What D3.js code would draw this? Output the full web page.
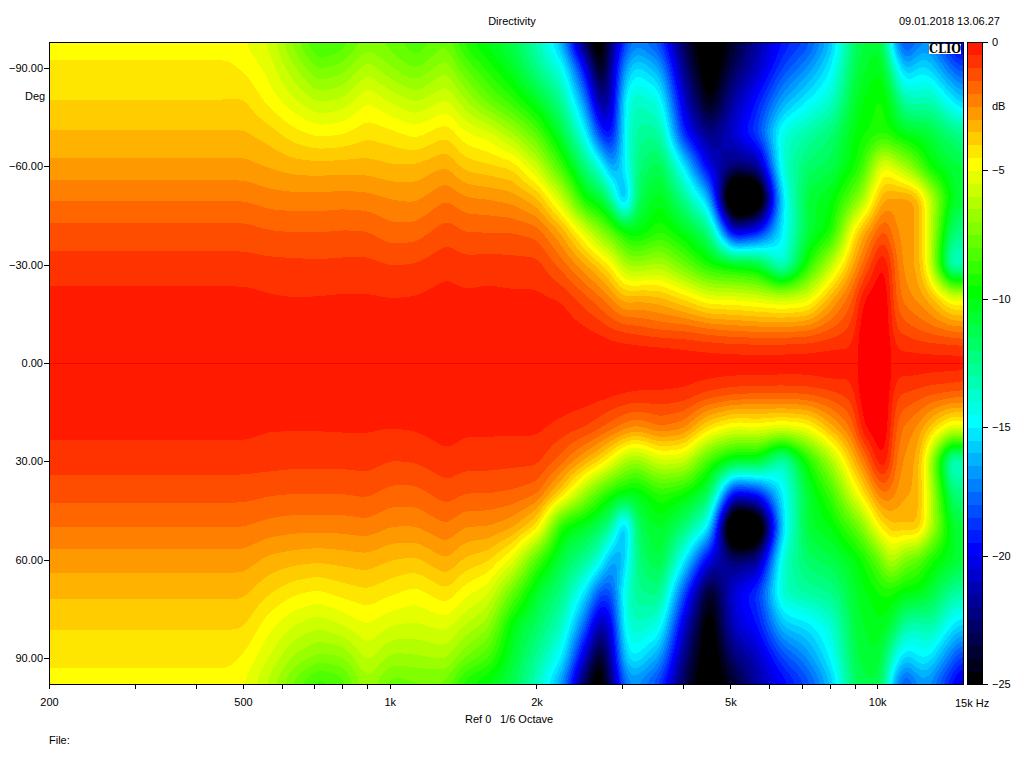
<!DOCTYPE html>
<html>
<head>
<meta charset="utf-8">
<title>Directivity</title>
<script src="https://cdn.jsdelivr.net/npm/d3@7"></script>
<style>
  body { margin: 0; background: #fff; }
  svg { display: block; }
  text { font-family: "Liberation Sans", Arial, sans-serif; font-size: 11px; fill: #000; }
  .tick line { stroke: #000; shape-rendering: crispEdges; }
  .domain { display: none; }
</style>
</head>
<body>
<svg id="chart" width="1024" height="768"></svg>
<script>
// measured frequencies (Hz), one column of the map each
var freqs = [200, 470, 504, 566, 635, 713, 800, 898, 1008, 1131, 1310, 1425, 1600, 1796, 2016, 2263, 2540, 2700,
  2851, 3040, 3200, 3592, 4032, 4525, 5080, 5702, 6400, 7184, 8063, 9051, 9228, 10159, 10577, 10700, 11404, 12130, 12800, 14368, 15000];

// measured angles (deg), top to bottom of the map
var angles = [-97.8, -90, -80, -70, -60, -50, -40, -30, -20, -10, -5, 0, 5, 10, 20, 30, 40, 50, 60, 70, 80, 90, 97.8];

// levels in dB, one line per frequency, one value per angle
var levels = [
  [-4.75,-4.4,-4,-3.45,-2.85,-2.05,-1.3,-.8,-.35,-.1,-.07,-.05,-.07,-.1,-.35,-.78,-1.33,-2,-2.75,-3.4,-3.95,-4.35,-4.75],
  [-4.75,-4.4,-4,-3.45,-2.85,-2.05,-1.3,-.8,-.35,-.1,-.07,-.05,-.07,-.1,-.35,-.78,-1.33,-2,-2.75,-3.4,-3.95,-4.35,-4.75],
  [-5,-4.6,-3.95,-3.45,-2.85,-2.05,-1.3,-.8,-.35,-.1,-.07,-.05,-.07,-.1,-.35,-.78,-1.33,-2,-2.75,-3.4,-3.95,-4.6,-5],
  [-5.6,-5.2,-4.7,-3.75,-3.05,-2.25,-1.45,-.85,-.45,-.15,-.07,-.05,-.07,-.1,-.47,-.8,-1.45,-2.2,-3.15,-3.95,-4.85,-5.5,-6.2],
  [-7.2,-6.4,-5.4,-4.3,-3.25,-2.3,-1.5,-.87,-.5,-.15,-.07,-.05,-.07,-.1,-.47,-.85,-1.5,-2.3,-3.3,-4.4,-5.5,-6.6,-7.7],
  [-8.8,-7.6,-6.1,-4.65,-3.3,-2.3,-1.5,-.9,-.48,-.15,-.07,-.05,-.07,-.1,-.47,-.85,-1.5,-2.3,-3.4,-4.6,-5.9,-7.2,-9],
  [-8.4,-7.3,-5.9,-4.55,-3.25,-2.25,-1.45,-.87,-.45,-.15,-.07,-.05,-.07,-.1,-.45,-.85,-1.5,-2.3,-3.3,-4.3,-5.5,-7.1,-8.4],
  [-7.3,-6.2,-5,-4.15,-3.27,-2.3,-1.47,-.85,-.45,-.15,-.07,-.05,-.07,-.1,-.45,-.8,-1.4,-2.2,-3.2,-4.1,-5,-5.8,-6.6],
  [-7.8,-7,-5.6,-4.35,-3.45,-2.5,-1.8,-1,-.5,-.15,-.07,-.05,-.07,-.1,-.5,-1,-1.7,-2.5,-3.5,-4.4,-5.5,-6.7,-7.9],
  [-8.5,-7.6,-6.1,-4.7,-3.4,-2.6,-1.75,-.95,-.47,-.15,-.07,-.05,-.07,-.1,-.45,-.95,-1.7,-2.5,-3.6,-4.7,-5.6,-6.6,-7.7],
  [-7.6,-6.6,-5.4,-4.1,-3,-2,-1.2,-.65,-.3,-.1,-.07,-.05,-.07,-.1,-.25,-.65,-1.25,-2.05,-3,-4.1,-5.3,-6.4,-7.7],
  [-9.3,-8,-6.4,-4.9,-3.7,-2.4,-1.5,-.8,-.4,-.1,-.07,-.05,-.07,-.1,-.4,-.8,-1.5,-2.5,-3.6,-4.8,-6,-7.5,-9.5],
  [-10.2,-9.3,-7.8,-5.3,-3.9,-2.5,-1.5,-.75,-.35,-.1,-.07,-.05,-.07,-.1,-.4,-.8,-1.5,-2.5,-3.9,-5.4,-6.8,-8.5,-10.2],
  [-11.3,-10.5,-9,-6.5,-4.15,-2.7,-1.5,-.8,-.4,-.1,-.07,-.05,-.07,-.1,-.4,-.85,-1.6,-2.9,-5.2,-7.9,-10.3,-10.8,-11.4],
  [-13.3,-12.6,-10.5,-8.2,-5.85,-3.4,-1.7,-.8,-.4,-.1,-.07,-.05,-.07,-.1,-.4,-.85,-1.9,-4.2,-8.5,-10.8,-11.7,-12.8,-13.6],
  [-16.5,-14.4,-12.7,-11,-8.8,-5.8,-3.1,-1.75,-.55,-.1,-.07,-.05,-.07,-.15,-.7,-1.8,-4,-9.7,-11.2,-12.3,-13.5,-15,-17],
  [-24.2,-20.3,-17.5,-15,-12.5,-10,-5.5,-3,-1.4,-.4,-.15,-.08,-.1,-.25,-1,-3.2,-7,-10.7,-12.7,-15.5,-18.3,-21.5,-24.2],
  [-26,-25.5,-22.5,-19,-14,-10.5,-7,-3.8,-1.9,-.6,-.15,-.08,-.12,-.3,-1.4,-4,-8.5,-11.5,-14,-18.5,-22,-25,-26],
  [-22.5,-21.5,-21.5,-20.3,-17.3,-12.5,-8,-4.6,-2.5,-.9,-.25,-.1,-.15,-.4,-1.8,-5,-9.5,-12.6,-17,-18.5,-20.3,-21.5,-22.5],
  [-18.5,-16.5,-14.3,-14.5,-15,-18,-9.5,-6.5,-3.5,-1.1,-.3,-.1,-.2,-.5,-2.3,-6.5,-10,-17.5,-16,-14,-14,-15.3,-17.5],
  [-17.3,-15.2,-13.5,-12.7,-12.2,-11.5,-10.2,-6.8,-3.2,-1.2,-.35,-.1,-.2,-.6,-2.6,-7,-10.4,-11.5,-12.2,-12.6,-13.5,-15,-17],
  [-18.5,-16.5,-14.3,-12.7,-11,-10,-9,-6.3,-3.4,-1.5,-.4,-.1,-.25,-.6,-2,-5.6,-9,-10.3,-10.7,-12.2,-14.2,-16.7,-18.8],
  [-23.5,-22.5,-21,-19.5,-15.2,-12.5,-10.2,-7.8,-4.2,-1.5,-.55,-.12,-.3,-.7,-2.4,-5.8,-9.7,-12,-15,-18.5,-21,-22.5,-23.5],
  [-26,-26,-25,-22.5,-20.5,-16,-12,-9.5,-5.2,-1.8,-.65,-.15,-.45,-1.2,-4.3,-8.8,-11.3,-14.8,-20.5,-24.7,-25.8,-26,-26],
  [-24,-23,-21.5,-20.5,-22.5,-29.5,-21,-10,-5.2,-2,-.75,-.15,-.55,-1.5,-5.2,-10.5,-20.5,-29.5,-22.5,-20.3,-20.7,-22.5,-24],
  [-21.5,-21,-19.3,-18.3,-22,-28,-19.5,-10.5,-5.5,-2.1,-.75,-.15,-.55,-1.6,-5,-10.5,-19.5,-28,-22,-18.7,-19.5,-21,-21.5],
  [-19.5,-18.5,-16.5,-14,-13.7,-15,-15,-14.5,-5.8,-2.1,-.75,-.15,-.6,-1.6,-5.3,-14,-15,-15.3,-13.7,-13.5,-15.8,-18.5,-20],
  [-18.5,-17,-15,-13,-11.8,-10.8,-11,-9.3,-5.5,-2,-.7,-.15,-.6,-1.5,-5,-9.5,-10.8,-10.7,-11.7,-12.8,-15.3,-17,-18.5],
  [-16,-15,-13.8,-12,-11.3,-10,-9.5,-6,-3.1,-1.4,-.55,-.12,-.45,-1.2,-3.2,-6.5,-8.7,-10,-11.2,-12.5,-14,-14.8,-16],
  [-11.3,-11,-10.3,-9.8,-9.4,-7.5,-3.9,-2.6,-1.3,-.7,-.45,-.4,-.45,-.7,-1.6,-3,-5,-8,-10,-10.5,-10.7,-11,-11.3],
  [-11.2,-10.8,-10.1,-9.7,-9.3,-7,-3.5,-2.2,-.1,.45,.45,.45,.45,.45,-.1,-2.7,-4.6,-7.6,-9.8,-10.3,-10.6,-10.9,-11.2],
  [-10.5,-9.8,-9.3,-9.2,-5.2,-3.2,-1.4,.15,.6,.7,.7,.7,.7,.7,.6,.15,-2,-4.3,-7.8,-9.5,-10,-10.5,-11],
  [-13.5,-11.5,-9.8,-9.3,-4.8,-2.7,-1.3,0,.55,.6,.6,.6,.6,.6,.55,-.2,-2,-3.8,-6,-9.3,-10.5,-12.7,-14],
  [-16,-13,-10.5,-9.6,-5.5,-2.9,-2.4,-1.4,-1.3,-.9,-.5,-.45,-.5,-.9,-1.3,-1.7,-2.3,-3.5,-5.8,-9.4,-10.8,-13.5,-16],
  [-19,-16.5,-13.2,-10.3,-6.5,-2.6,-2.7,-2.8,-2.3,-1.2,-.55,-.25,-.5,-1.1,-2.2,-2.7,-3,-3.6,-7.5,-10,-13,-16,-19],
  [-17.5,-15.3,-13.5,-10.5,-8,-3,-2.9,-3,-2.7,-1.5,-.7,-.15,-.6,-1.3,-2.6,-3,-3,-3.2,-8,-10,-13.5,-15,-17],
  [-17,-15.5,-13,-10.8,-9.8,-5.5,-5.5,-5.3,-3.2,-1.7,-.75,-.15,-.7,-1.5,-3.6,-6,-5.5,-5.6,-9.3,-10.7,-12.7,-15,-17],
  [-20,-18,-15.2,-12.2,-10.8,-10.6,-12.5,-15,-5.3,-2.1,-.8,-.15,-.8,-1.7,-5.5,-15,-12.5,-10.8,-10.5,-12.8,-15.2,-18,-20],
  [-21,-18.5,-16,-12.5,-11,-10.6,-12,-13,-5,-2.2,-.85,-.15,-.85,-1.8,-5,-13,-12,-10.8,-10.8,-13,-15.7,-19,-21]
];

// tick values and labels
var freqTicks = [200, 300, 400, 500, 600, 700, 800, 900, 1000, 2000, 3000, 4000, 5000, 6000, 7000, 8000, 9000, 10000];
var freqLabels = { 200: "200", 500: "500", 1000: "1k", 2000: "2k", 5000: "5k", 10000: "10k" };
var angleTicks = [-90, -60, -30, 0, 30, 60, 90];
var dbTicks = [0, -5, -10, -15, -20, -25];

// colour bands, half a dB wide
var bandEdges = d3.range(-25, 0.5, 0.5);
var bandColor = d3.scaleLinear()
  .domain([0, -5, -10, -15, -20, -25])
  .range(["#ff0000", "#ffff00", "#00ff00", "#00ffff", "#0000ff", "#000000"]);

var margin = { top: 42, right: 963, bottom: 684, left: 49 };

var svg = d3.select("#chart");

var x = d3.scaleLog().domain([200, 15000]).range([margin.left, margin.right]);
var y = d3.scaleLinear().domain([-97.8, 97.8]).range([margin.top, margin.bottom]);
var yDb = d3.scaleLinear().domain([0, -25]).range([margin.top, margin.bottom]);

// pixel position to place in the table of levels
var pxToCol = d3.scaleLinear().domain(freqs.map(function (f) { return x(f); })).range(d3.range(freqs.length)).clamp(true);
var pxToRow = d3.scaleLinear().domain(angles.map(function (a) { return y(a); })).range(d3.range(angles.length)).clamp(true);

// the plot is sampled every 2 px so the bands come out as smooth as the original's
var cell = 2;
var nx = Math.round((margin.right - margin.left) / cell);
var ny = Math.round((margin.bottom - margin.top) / cell);

function levelAt(px, py) {
  var c = pxToCol(px), r = pxToRow(py);
  var i = Math.min(Math.floor(c), freqs.length - 2), j = Math.min(Math.floor(r), angles.length - 2);
  var tc = c - i, tr = r - j;
  return (levels[i][j] * (1 - tc) + levels[i + 1][j] * tc) * (1 - tr) +
    (levels[i][j + 1] * (1 - tc) + levels[i + 1][j + 1] * tc) * tr;
}

var sampled = new Float64Array(nx * ny);
for (var row = 0; row < ny; row++) {
  for (var col = 0; col < nx; col++) {
    sampled[row * nx + col] = levelAt(margin.left + (col + 0.5) * cell, margin.top + (row + 0.5) * cell);
  }
}
d3.blur2({ data: sampled, width: nx, height: ny }, 2, 3);

var contours = d3.contours()
  .size([nx, ny])
  .thresholds(bandEdges)(sampled);

function toPixels(geometry) {
  return {
    type: "MultiPolygon",
    coordinates: geometry.coordinates.map(function (polygon) {
      return polygon.map(function (ring) {
        return ring.map(function (p) {
          return [margin.left + p[0] * cell, margin.top + p[1] * cell];
        });
      });
    })
  };
}

var path = d3.geoPath();

// black under everything: whatever is below the last edge
svg.append("rect")
  .attr("x", margin.left)
  .attr("y", margin.top)
  .attr("width", margin.right - margin.left)
  .attr("height", margin.bottom - margin.top)
  .attr("fill", "#000");

svg.append("g")
  .selectAll("path")
  .data(contours)
  .join("path")
  .attr("d", function (d) { return path(toPixels(d)); })
  .attr("fill", function (d) { return bandColor(d.value); })
  .attr("shape-rendering", "crispEdges");

// 0 deg line
svg.append("line")
  .attr("x1", margin.left)
  .attr("x2", margin.right)
  .attr("y1", Math.round(y(0)) + 0.5)
  .attr("y2", Math.round(y(0)) + 0.5)
  .attr("stroke", "#ff0000")
  .attr("shape-rendering", "crispEdges");

// plot frame
svg.append("rect")
  .attr("x", margin.left + 0.5)
  .attr("y", margin.top + 0.5)
  .attr("width", margin.right - margin.left)
  .attr("height", margin.bottom - margin.top)
  .attr("fill", "none")
  .attr("stroke", "#000")
  .attr("shape-rendering", "crispEdges");

// axes
svg.append("g")
  .attr("transform", "translate(" + margin.left + ",0)")
  .call(d3.axisLeft(y).tickValues(angleTicks).tickSize(5).tickPadding(1).tickFormat(d3.format(".2f")));

svg.append("g")
  .attr("transform", "translate(0," + margin.bottom + ")")
  .call(d3.axisBottom(x).tickValues(freqTicks).tickSize(5).tickPadding(9)
    .tickFormat(function (d) { return freqLabels[d] || ""; }));

// colour bar
var bands = bandEdges.slice(0, -1);
svg.append("g")
  .selectAll("rect")
  .data(bands)
  .join("rect")
  .attr("x", 968)
  .attr("y", function (d) { return yDb(d + 0.5); })
  .attr("width", 15)
  .attr("height", function (d) { return yDb(d) - yDb(d + 0.5) + 0.5; })
  .attr("fill", function (d) { return bandColor(d); })
  .attr("shape-rendering", "crispEdges");

svg.append("rect")
  .attr("x", 967.5)
  .attr("y", margin.top + 0.5)
  .attr("width", 15)
  .attr("height", margin.bottom - margin.top)
  .attr("fill", "none")
  .attr("stroke", "#000")
  .attr("shape-rendering", "crispEdges");

svg.append("g")
  .attr("transform", "translate(983,0)")
  .call(d3.axisRight(yDb).tickValues(dbTicks).tickSize(5).tickPadding(4).tickFormat(d3.format("d")));

// texts
function label(str, px, py, anchor) {
  svg.append("text")
    .attr("x", px)
    .attr("y", py)
    .attr("text-anchor", anchor || "start")
    .text(str);
}
label("Directivity", 512, 25, "middle");
label("09.01.2018 13.06.27", 899, 25);
label("Deg", 25, 100);
label("dB", 992, 110);
label("15k Hz", 955, 707);
label("Ref 0", 465, 723);
label("1/6 Octave", 500, 723);
label("File:", 49, 744);

svg.append("rect")
  .attr("x", 929)
  .attr("y", 44)
  .attr("width", 32)
  .attr("height", 10)
  .attr("fill", "#fff");
svg.append("text")
  .attr("x", 929)
  .attr("y", 53)
  .attr("textLength", 32)
  .attr("lengthAdjust", "spacingAndGlyphs")
  .style("font-family", "'DejaVu Serif', serif")
  .style("font-weight", "bold")
  .style("font-size", "12px")
  .text("CLIO");
</script>
</body>
</html>
